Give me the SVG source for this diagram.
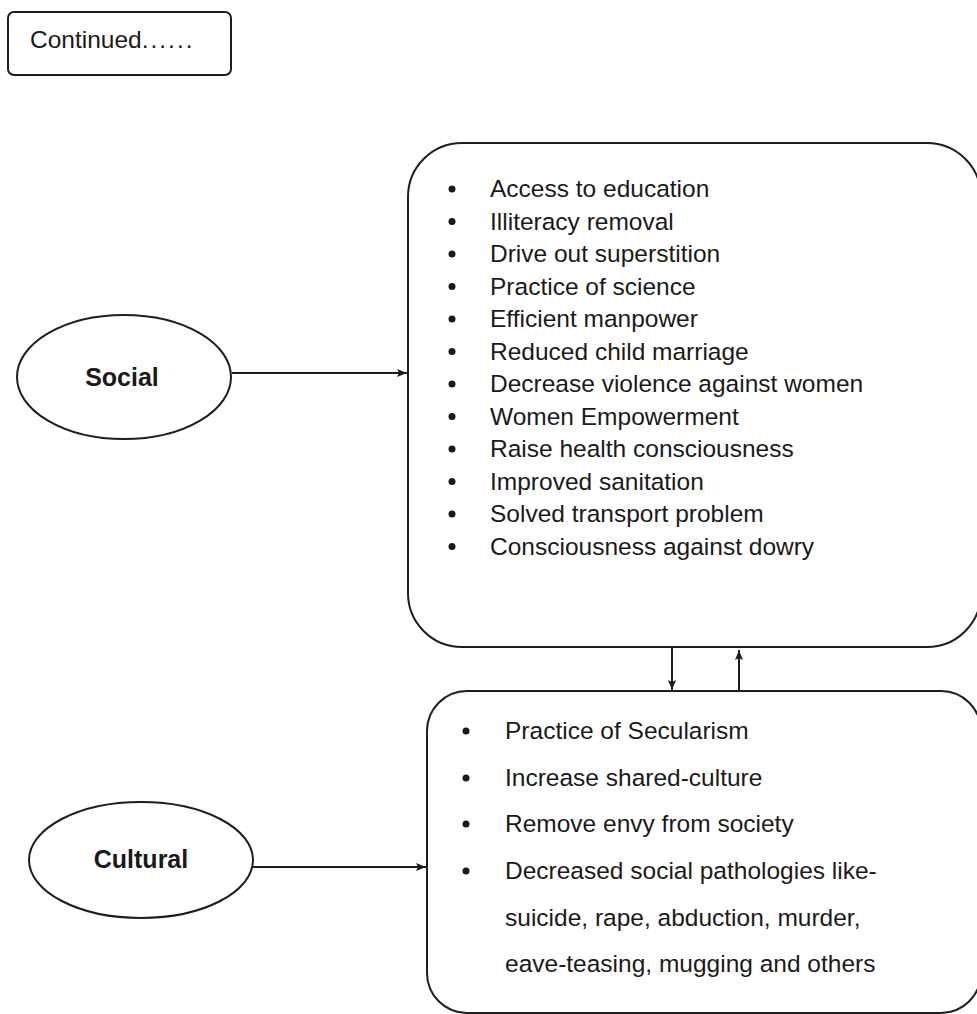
<svg xmlns="http://www.w3.org/2000/svg" width="977" height="1014" viewBox="0 0 977 1014">
  <defs>
    <marker id="arrow" viewBox="0 0 10 10" refX="10" refY="5" markerWidth="10" markerHeight="8" markerUnits="userSpaceOnUse" orient="auto" preserveAspectRatio="none">
      <path d="M0,0 L10,5 L0,10 L2,5 Z" fill="#1c1c1c"/>
    </marker>
    <style>
      .shape { fill: none; stroke: #1e1e1e; stroke-width: 2; }
      .conn { fill: none; stroke: #1e1e1e; stroke-width: 2; }
      .item { font-family: "Liberation Sans", Arial, sans-serif; font-size: 24.5px; fill: #1a1a1a; }
      .label { font-family: "Liberation Sans", Arial, sans-serif; font-size: 25px; font-weight: bold; fill: #1a1a1a; text-anchor: middle; }
      .dot { fill: #1a1a1a; }
    </style>
  </defs>
  <rect width="977" height="1014" fill="#ffffff"/>

  <!-- header tag -->
  <g id="continued">
    <rect class="shape" x="8" y="12" width="223" height="63" rx="6"/>
    <text class="item" x="30" y="48">Continued<tspan letter-spacing="2">......</tspan></text>
  </g>

  <!-- social ellipse -->
  <g id="social">
    <ellipse class="shape" cx="124" cy="377" rx="107" ry="62"/>
    <text class="label" x="122" y="386">Social</text>
  </g>

  <!-- cultural ellipse -->
  <g id="cultural">
    <ellipse class="shape" cx="141" cy="860" rx="112" ry="58"/>
    <text class="label" x="141" y="868">Cultural</text>
  </g>

  <!-- social outcomes -->
  <g id="social-outcomes">
    <rect class="shape" x="408" y="143" width="573" height="504" rx="54"/>
    <g class="dot">
      <circle cx="452" cy="189" r="3.5"/>
      <circle cx="452" cy="221.5" r="3.5"/>
      <circle cx="452" cy="254" r="3.5"/>
      <circle cx="452" cy="286.5" r="3.5"/>
      <circle cx="452" cy="319" r="3.5"/>
      <circle cx="452" cy="351.5" r="3.5"/>
      <circle cx="452" cy="384" r="3.5"/>
      <circle cx="452" cy="416.5" r="3.5"/>
      <circle cx="452" cy="449" r="3.5"/>
      <circle cx="452" cy="481.5" r="3.5"/>
      <circle cx="452" cy="514" r="3.5"/>
      <circle cx="452" cy="546.5" r="3.5"/>
    </g>
    <text class="item" x="490" y="197">Access to education</text>
    <text class="item" x="490" y="229.5">Illiteracy removal</text>
    <text class="item" x="490" y="262">Drive out superstition</text>
    <text class="item" x="490" y="294.5">Practice of science</text>
    <text class="item" x="490" y="327">Efficient manpower</text>
    <text class="item" x="490" y="359.5">Reduced child marriage</text>
    <text class="item" x="490" y="392">Decrease violence against women</text>
    <text class="item" x="490" y="424.5">Women Empowerment</text>
    <text class="item" x="490" y="457">Raise health consciousness</text>
    <text class="item" x="490" y="489.5">Improved sanitation</text>
    <text class="item" x="490" y="522">Solved transport problem</text>
    <text class="item" x="490" y="554.5">Consciousness against dowry</text>
  </g>

  <!-- cultural outcomes -->
  <g id="cultural-outcomes">
    <rect class="shape" x="427" y="691" width="554" height="322" rx="40"/>
    <g class="dot">
      <circle cx="466" cy="731" r="3.5"/>
      <circle cx="466" cy="778" r="3.5"/>
      <circle cx="466" cy="824" r="3.5"/>
      <circle cx="466" cy="871" r="3.5"/>
    </g>
    <text class="item" x="505" y="739">Practice of Secularism</text>
    <text class="item" x="505" y="786">Increase shared-culture</text>
    <text class="item" x="505" y="832">Remove envy from society</text>
    <text class="item" x="505" y="879">Decreased social pathologies like-</text>
    <text class="item" x="505" y="926">suicide, rape, abduction, murder,</text>
    <text class="item" x="505" y="972">eave-teasing, mugging and others</text>
  </g>

  <!-- connectors -->
  <g id="connectors">
    <line class="conn" x1="232" y1="373" x2="407" y2="373" marker-end="url(#arrow)"/>
    <line class="conn" x1="253" y1="867" x2="426" y2="867" marker-end="url(#arrow)"/>
    <line class="conn" x1="672" y1="647" x2="672" y2="690" marker-end="url(#arrow)"/>
    <line class="conn" x1="739" y1="691" x2="739" y2="650" marker-end="url(#arrow)"/>
  </g>
</svg>
